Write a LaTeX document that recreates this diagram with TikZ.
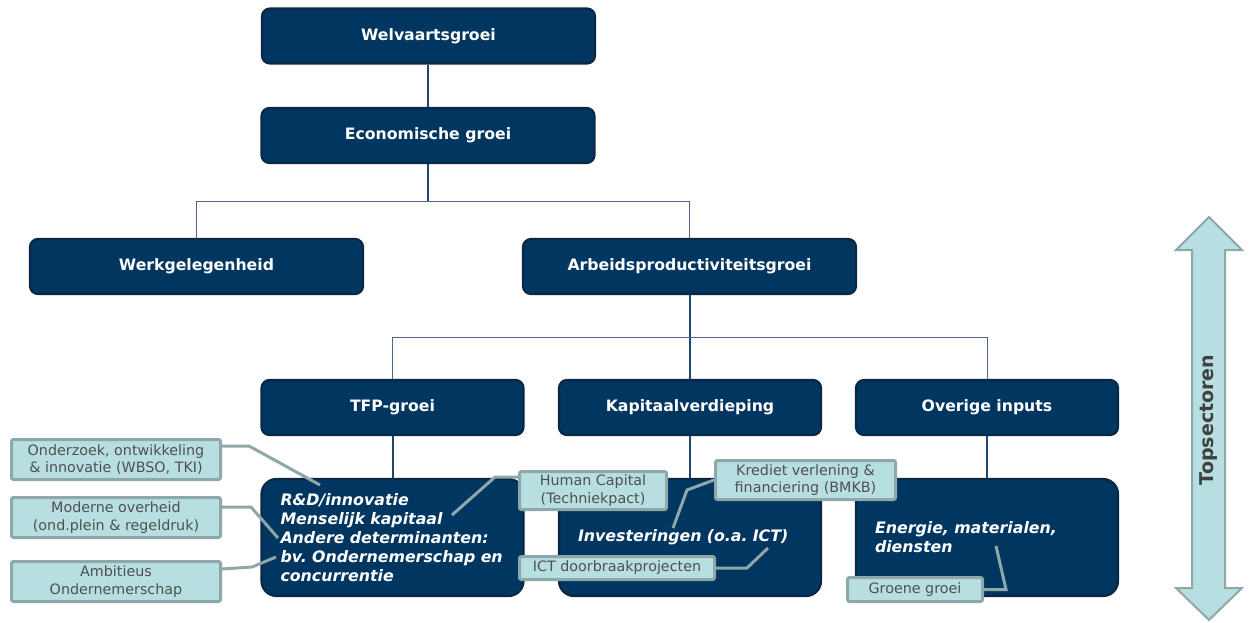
\documentclass[tikz,border=0pt]{standalone}
\usepackage{fontspec}
\setmainfont{DejaVu Sans}
\usetikzlibrary{calc}
\frenchspacing
\definecolor{navy}{HTML}{00365F}
\definecolor{navyborder}{HTML}{0A2743}
\definecolor{lightbox}{HTML}{B7DEE1}
\definecolor{lightborder}{HTML}{8EA8A9}
\definecolor{graytext}{HTML}{505050}
\definecolor{treeline}{HTML}{1F4470}
\definecolor{arrowtext}{HTML}{404040}
\begin{document}
\begin{tikzpicture}[x=1pt,y=-1pt,
  navybox/.style={draw=navyborder, line width=2.2pt, fill=navy, rounded corners=8pt, text=white,
    font=\fontsize{15.7}{19}\selectfont\bfseries, inner sep=0pt, minimum height=55pt},
  bigbox/.style={navybox, rounded corners=15pt, font=\frenchspacing\fontsize{15.8}{19}\selectfont\bfseries\itshape,
    text width=224pt, align=left, minimum width=262pt, minimum height=117pt},
  lightnode/.style={draw=lightborder, line width=3pt, fill=lightbox, rounded corners=2pt, text=graytext,
    font=\fontsize{14.3}{17.5}\selectfont, align=center, inner sep=0pt},
  callout/.style={draw=lightborder, line width=3pt},
  treethick/.style={draw=treeline, line width=2pt},
  treethin/.style={draw=treeline!80!white, line width=1pt},
]
\useasboundingbox (0,0) rectangle (1251,622);

% navy tree boxes
\node[navybox, minimum width=333pt] (wel) at (428.5,36) {Welvaartsgroei};
\node[navybox, minimum width=333pt] (eco) at (428,135.5) {Economische groei};
\node[navybox, minimum width=333pt] (werk) at (196.5,266.5) {Werkgelegenheid};
\node[navybox, minimum width=333pt] (arb) at (689.5,266.5) {Arbeidsproductiviteitsgroei};
\node[navybox, minimum width=262pt] (tfp) at (392.5,407.5) {TFP-groei};
\node[navybox, minimum width=262pt] (kap) at (690,407.5) {Kapitaalverdieping};
\node[navybox, minimum width=262pt] (ove) at (987,407.5) {Overige inputs};

\node[bigbox] (b1) at (392.5,537.5) {R\&D/innovatie\\Menselijk~kapitaal\\Andere~determinanten:\\bv.~Ondernemerschap~en\\concurrentie};
\node[bigbox] (b2) at (690,537.5) {Investeringen (o.a. ICT)};
\node[bigbox] (b3) at (987,537.5) {Energie, materialen,\\diensten};

% tree connectors
\draw[treethick] (wel.south -| eco.north) -- (eco.north);
\draw[treethick] (eco.south) -- (eco.south |- 0,201);
\draw[treethin] (eco.south |- 0,201) -| (werk.north);
\draw[treethin] (eco.south |- 0,201) -| (arb.north);
\draw[treethick] (arb.south -| kap.north) -- (kap.north);
\draw[treethin] (kap.north |- 0,337) -| (tfp.north);
\draw[treethin] (kap.north |- 0,337) -| (ove.north);
\draw[treethick] (tfp.south) -- (b1.north);
\draw[treethick] (kap.south) -- (b2.north);
\draw[treethick] (ove.south) -- (b3.north);

% light boxes
\node[lightnode, minimum width=209pt, minimum height=40pt] (s1) at (116,459.5) {Onderzoek, ontwikkeling\\\& innovatie (WBSO, TKI)};
\node[lightnode, minimum width=209pt, minimum height=40pt] (s2) at (116,517.5) {Moderne overheid\\(ond.plein \& regeldruk)};
\node[lightnode, minimum width=209pt, minimum height=40pt] (s3) at (116,581.5) {Ambitieus\\Ondernemerschap};
\node[lightnode, minimum width=147pt, minimum height=38pt] (s4) at (593,490.5) {Human Capital\\(Techniekpact)};
\node[lightnode, minimum width=180pt, minimum height=39pt] (s5) at (805.5,480) {Krediet verlening \&\\financiering (BMKB)};
\node[lightnode, minimum width=195pt, minimum height=23pt] (s6) at (617,568) {ICT doorbraakprojecten};
\node[lightnode, minimum width=135pt, minimum height=24pt] (s7) at (915,589.5) {Groene groei};

% callout lines
\coordinate (c1) at (320,485);
\coordinate (c2) at (278,538);
\coordinate (c3) at (276,557);
\coordinate (c4) at (452,515);
\coordinate (c5) at (673,528);
\coordinate (c6) at (768,548);
\coordinate (c7) at (996,546);
\draw[callout] ([yshift=-8pt]s1.north east) -- ++(27,0) -- (c1);
\draw[callout] ([yshift=-11pt]s2.north east) -- ++(29,0) -- (c2);
\draw[callout] ([yshift=-9pt]s3.north east) -- ++(30,-2) -- (c3);
\draw[callout] ([yshift=-7pt]s4.north west) -- ++(-23,0) -- (c4);
\draw[callout] (s5.west) -- ++(-27,10) -- (c5);
\draw[callout] (s6.east) -- ++(31,0) -- (c6);
\draw[callout] (s7.east) -- ++(22,0) -- (c7);

% Topsectoren arrow
\draw[draw=lightborder, fill=lightbox, line width=2pt, line join=miter]
  (1209,217) -- (1242,250) -- (1225,250) -- (1225,588) -- (1242,588) -- (1209,620)
  -- (1176,588) -- (1192,588) -- (1192,250) -- (1176,250) -- cycle;
\node[rotate=90, text=arrowtext, font=\fontsize{19}{22}\selectfont\bfseries] (topsec) at (1209,420) {Topsectoren};
\end{tikzpicture}
\end{document}
